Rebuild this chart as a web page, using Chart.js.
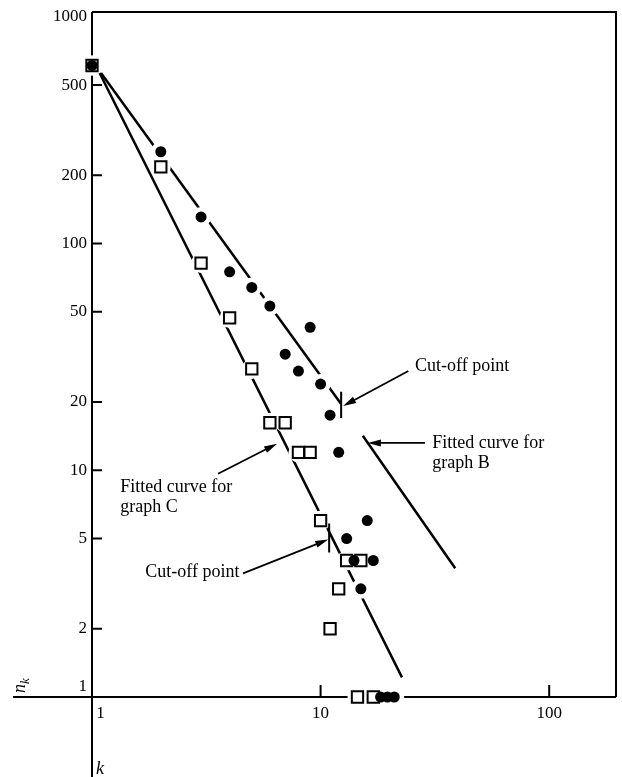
<!DOCTYPE html>
<html>
<head>
<meta charset="utf-8">
<script src="https://cdn.jsdelivr.net/npm/chart.js@4.4.0/dist/chart.umd.min.js"></script>
<style>
html, body { margin: 0; padding: 0; background: #fff; }
#wrap { width: 622px; height: 777px; }
</style>
</head>
<body>
<div id="wrap"><canvas id="chart"></canvas></div>
<script>
// graph B: filled circles (k, n_k)
var bK = [1, 2, 3, 4, 5, 6, 7, 8, 9, 10, 11, 12, 13, 14, 15, 16, 17, 18.3, 19.6, 21];
var bN = [610, 254, 131, 75, 64, 53, 32.5, 27.4, 42.7, 24, 17.5, 12, 5, 4, 3, 6, 4, 1, 1, 1];

// graph C: open squares
var cK = [1, 2, 3, 4, 5, 6, 7, 8, 9, 10, 11, 12, 13, 15, 14.5, 17];
var cN = [610, 218, 82, 47, 28, 16.2, 16.2, 12, 12, 6, 2, 3, 4, 4, 1, 1];

// fitted lines (end points)
var fitB1K = [1.095, 12.3], fitB1N = [565, 19.6];
var fitB2K = [15.3, 38.8], fitB2N = [14.2, 3.7];
var fitCK = [1.08, 22.7], fitCN = [565, 1.22];

// cut-off marks
var cutBK = [12.3, 12.3], cutBN = [22.2, 17.0];
var cutCK = [10.9, 10.9], cutCN = [5.82, 4.34];

// axes
var xTicks = [1, 2, 4, 10, 30, 100];
var xLabels = [1, 10, 100];
var yTicks = [1, 2, 5, 10, 20, 50, 100, 200, 500, 1000];

// notes with arrows
var noteText = [['Cut-off point'], ['Fitted curve for', 'graph B'], ['Fitted curve for', 'graph C'], ['Cut-off point']];
var noteK = [25.9, 30.8, 1.33, 1.71];
var noteN = [28.8, 13.2, 8.38, 3.54];
var arrowFromK = [24.2, 28.6, 3.56, 4.58], arrowFromN = [27.4, 13.2, 9.65, 3.51];
var arrowToK = [12.55, 16.1, 6.45, 10.8], arrowToN = [19.2, 13.2, 13.1, 4.95];

var SERIF = '"Liberation Serif", "DejaVu Serif", serif';

function pts(xs, ys) {
    return xs.map(function (v, i) { return { x: v, y: ys[i] }; });
}

function lineSet(xs, ys) {
    return {
        type: 'scatter', data: pts(xs, ys), showLine: true, pointRadius: 0,
        borderColor: '#000', borderWidth: 2.5, clip: false, order: 5
    };
}

function arrow(ctx, x1, y1, x2, y2) {
    var a = Math.atan2(y2 - y1, x2 - x1), len = 13, hw = 3.5;
    var c = Math.cos(a), s = Math.sin(a);
    ctx.beginPath();
    ctx.moveTo(x1, y1);
    ctx.lineTo(x2 - c * len * 0.7, y2 - s * len * 0.7);
    ctx.stroke();
    ctx.beginPath();
    ctx.moveTo(x2, y2);
    ctx.lineTo(x2 - c * len + s * hw, y2 - s * len - c * hw);
    ctx.lineTo(x2 - c * len - s * hw, y2 - s * len + c * hw);
    ctx.closePath();
    ctx.fill();
}

var paperPlugin = {
    id: 'paper',
    beforeDatasetsDraw: function (chart) {
        var ctx = chart.ctx, a = chart.chartArea;
        var xs = chart.scales.x, ys = chart.scales.y;
        ctx.save();
        ctx.strokeStyle = '#000';
        ctx.lineWidth = 2;
        ctx.beginPath();
        // axes cross at (1,1) and run on past each other
        ctx.moveTo(a.left, a.top); ctx.lineTo(a.left, chart.height);
        ctx.moveTo(a.left - 79, a.bottom); ctx.lineTo(a.right, a.bottom);
        // frame top and right
        ctx.moveTo(a.left, a.top); ctx.lineTo(a.right, a.top); ctx.lineTo(a.right, a.bottom);
        // ticks point inward
        xs.ticks.forEach(function (t) {
            if (t.value <= 1) return;
            var px = xs.getPixelForValue(t.value);
            ctx.moveTo(px, a.bottom); ctx.lineTo(px, a.bottom - 12);
        });
        ys.ticks.forEach(function (t) {
            if (t.value <= 1 || t.value >= 1000) return;
            var py = ys.getPixelForValue(t.value);
            ctx.moveTo(a.left, py); ctx.lineTo(a.left + 10, py);
        });
        ctx.stroke();
        ctx.restore();
    },
    afterDatasetsDraw: function (chart) {
        var ctx = chart.ctx, a = chart.chartArea;
        var xs = chart.scales.x, ys = chart.scales.y;
        ctx.save();
        ctx.fillStyle = '#000';
        ctx.strokeStyle = '#000';
        ctx.lineWidth = 1.8;
        for (var i = 0; i < noteText.length; i++) {
            arrow(ctx, xs.getPixelForValue(arrowFromK[i]), ys.getPixelForValue(arrowFromN[i]),
                xs.getPixelForValue(arrowToK[i]), ys.getPixelForValue(arrowToN[i]));
            ctx.font = '18px ' + SERIF;
            ctx.textAlign = 'left';
            ctx.textBaseline = 'middle';
            var tx = xs.getPixelForValue(noteK[i]), ty = ys.getPixelForValue(noteN[i]);
            noteText[i].forEach(function (line, j) { ctx.fillText(line, tx, ty + j * 20); });
        }
        // axis names
        ctx.textBaseline = 'alphabetic';
        ctx.font = 'italic 18px ' + SERIF;
        ctx.fillText('k', a.left + 4, chart.height - 3);
        ctx.translate(25, a.bottom - 4);
        ctx.rotate(-Math.PI / 2);
        ctx.fillText('n', 0, 0);
        ctx.font = 'italic 13px ' + SERIF;
        ctx.fillText('k', 9, 4);
        ctx.restore();
    }
};

new Chart(document.getElementById('chart').getContext('2d'), {
    data: {
        datasets: [
            lineSet(fitB1K, fitB1N),
            lineSet(fitB2K, fitB2N),
            lineSet(fitCK, fitCN),
            // white halos break the lines around the markers
            { type: 'scatter', data: pts(bK, bN), pointRadius: 10, pointBackgroundColor: '#fff', pointBorderWidth: 0, clip: false, order: 4 },
            { type: 'scatter', data: pts(cK, cN), pointRadius: 10, pointBackgroundColor: '#fff', pointBorderWidth: 0, clip: false, order: 4 },
            Object.assign(lineSet(cutBK, cutBN), { borderWidth: 2, order: 3 }),
            Object.assign(lineSet(cutCK, cutCN), { borderWidth: 2, order: 3 }),
            {
                type: 'scatter', label: 'graph C', data: pts(cK, cN), pointStyle: 'rect', pointRadius: 8,
                pointBackgroundColor: '#fff', pointBorderColor: '#000', pointBorderWidth: 2, clip: false, order: 2
            },
            {
                type: 'scatter', label: 'graph B', data: pts(bK, bN), pointStyle: 'circle', pointRadius: 5.5,
                pointBackgroundColor: '#000', pointBorderColor: '#000', pointBorderWidth: 0, clip: false, order: 1
            }
        ]
    },
    options: {
        responsive: true,
        maintainAspectRatio: false,
        animation: false,
        events: [],
        layout: { autoPadding: false, padding: { top: 12, right: 6, left: 0, bottom: 0 } },
        plugins: { legend: { display: false }, tooltip: { enabled: false } },
        scales: {
            x: {
                type: 'logarithmic', min: 1, max: 196,
                afterFit: function (s) {
                    s.height = 80;
                    s.paddingLeft = 0; s.paddingRight = 0;
                },
                afterBuildTicks: function (s) { s.ticks = xTicks.map(function (v) { return { value: v }; }); },
                grid: { display: false, drawTicks: false },
                border: { display: false },
                ticks: {
                    autoSkip: false, maxRotation: 0, padding: 6, color: '#000',
                    font: { family: SERIF, size: 17 },
                    callback: function (v) {
                        if (v === 1) return '    1';
                        return xLabels.indexOf(v) >= 0 ? String(v) : null;
                    }
                }
            },
            y: {
                type: 'logarithmic', min: 1, max: 1050,
                afterFit: function (s) {
                    s.width = 92;
                    s.paddingTop = 0; s.paddingBottom = 0;
                },
                afterBuildTicks: function (s) { s.ticks = yTicks.map(function (v) { return { value: v }; }); },
                grid: { display: false, drawTicks: false },
                border: { display: false },
                ticks: {
                    autoSkip: false, padding: 5, color: '#000',
                    font: { family: SERIF, size: 17 },
                    callback: function (v) { return v === 1 ? ['1', ''] : String(v); }
                }
            }
        }
    },
    plugins: [paperPlugin]
});
</script>
</body>
</html>
